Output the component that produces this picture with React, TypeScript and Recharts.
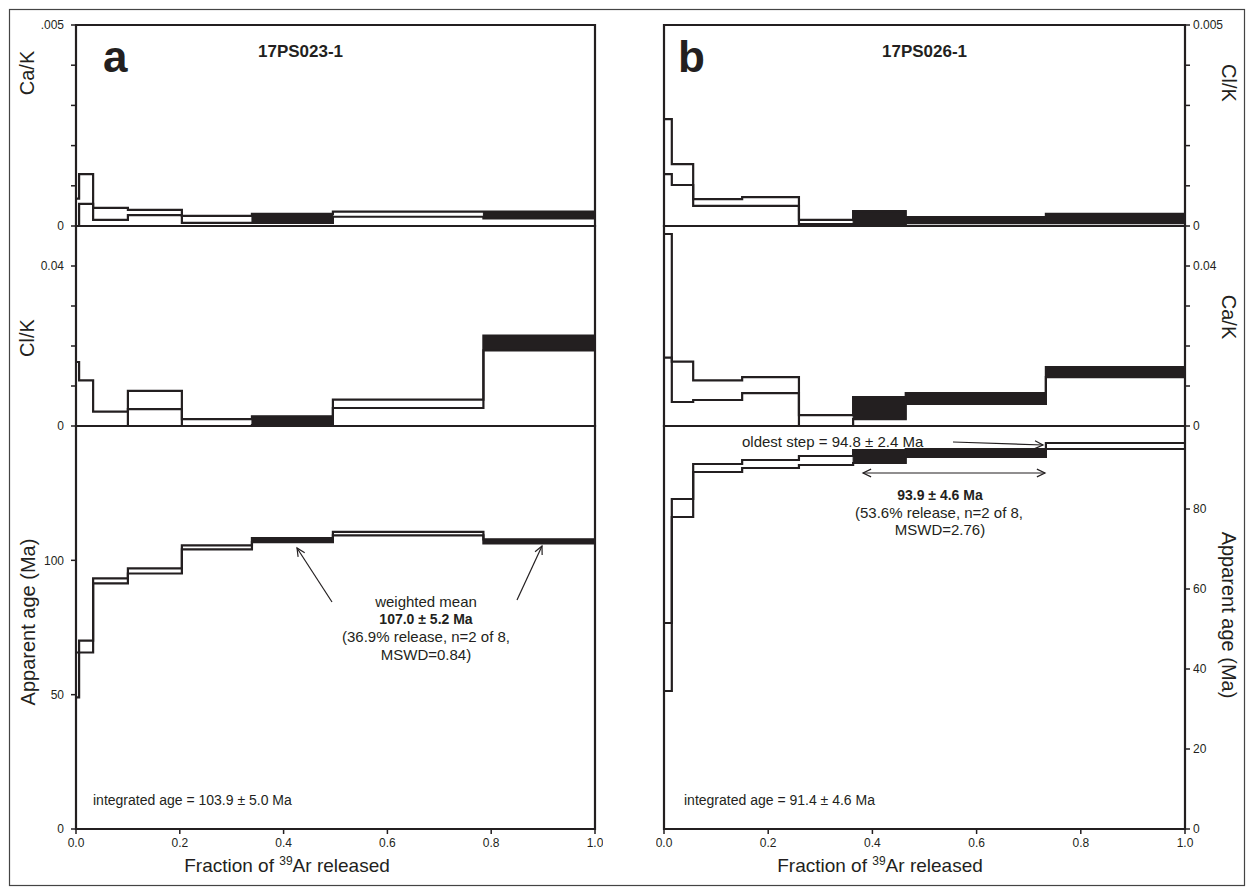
import React from 'react';
import { ComposedChart, Line, XAxis, YAxis, ReferenceArea } from 'recharts';

const INK = '#231f20';
const FONT = '"Liberation Sans", Arial, Helvetica, sans-serif';

// ---- panel a : 17PS023-1 ----
const fractionA = [0, 0.006, 0.033, 0.1, 0.204, 0.339, 0.495, 0.785, 1.0];
const caKHiA = [0.00068, 0.00129, 0.00045, 0.0004, 0.00025, 0.0003, 0.00036, 0.00036];
const caKLoA = [0, 0.00055, 0.00015, 0.00027, 0.00008, 0.00008, 0.00023, 0.00019];
const clKHiA = [0.016, 0.0114, 0.0036, 0.0088, 0.0017, 0.0024, 0.0066, 0.0226];
const clKLoA = [0, 0, 0, 0.0042, 0, 0.0002, 0.0045, 0.0189];
const ageHiA = [65.7, 70.1, 93.3, 97.0, 105.6, 108.3, 110.6, 107.8];
const ageLoA = [49, 65.7, 91.4, 95.1, 104.1, 106.8, 109.3, 106.3];
const plateauA = [5, 7];

// ---- panel b : 17PS026-1 ----
const fractionB = [0, 0.015, 0.056, 0.15, 0.259, 0.363, 0.464, 0.733, 1.0];
const clKHiB = [0.00266, 0.00154, 0.00067, 0.00072, 0.00015, 0.00037, 0.00022, 0.0003];
const clKLoB = [0.00129, 0.00102, 0.0005, 0.0005, 0.00005, 0.00002, 0.00007, 0.00007];
const caKHiB = [0.048, 0.0161, 0.0114, 0.0122, 0.0027, 0.0072, 0.0082, 0.0147];
const caKLoB = [0.0171, 0.006, 0.0065, 0.0082, 0, 0.0017, 0.0055, 0.0122];
const ageHiB = [51.5, 82.5, 91.25, 92.25, 93.25, 94.75, 95.0, 96.5];
const ageLoB = [34.5, 78.0, 89.25, 90.25, 91.0, 91.5, 93.0, 95.0];
const ratioFilledB = [5, 6, 7];
const ageFilledB = [5, 6];

// ---- axes ----
const xTicks = [0, 0.2, 0.4, 0.6, 0.8, 1.0];
const smallTicks = [0, 0.001, 0.002, 0.003, 0.004, 0.005];
const bigTicks = [0, 0.01, 0.02, 0.03, 0.04];
const ageTicksA = [0, 50, 100];
const ageTicksB = [0, 20, 40, 60, 80];

const M = 8;

type PlotProps = {
  bounds: number[];
  hi: number[];
  lo: number[];
  filled: number[];
  domain: [number, number];
  ticks: number[];
  labels: Record<string, string>;
  side: 'left' | 'right';
  left: number;
  top: number;
  width: number;
  height: number;
  showX?: boolean;
};

function StepPlot(p: PlotProps) {
  const data = p.bounds.map((x, i) => {
    const k = Math.min(i, p.hi.length - 1);
    return { x, hi: p.hi[k], lo: p.lo[k] };
  });
  const yW = p.side === 'left' ? 66 : 50;
  const xH = p.showX ? 30 : 0;
  const divLeft = p.side === 'left' ? p.left - yW - M : p.left - M;
  return (
    <div style={{ position: 'absolute', left: divLeft, top: p.top - M }}>
      <ComposedChart
        width={M + yW + p.width + M}
        height={M + p.height + xH + M}
        data={data}
        margin={{ top: M, right: M, bottom: M, left: M }}
      >
        <XAxis
          type="number"
          dataKey="x"
          domain={[0, 1]}
          ticks={xTicks}
          hide={!p.showX}
          height={30}
          tickFormatter={(v: number) => v.toFixed(1)}
          tickSize={5}
          tickMargin={4}
          axisLine={false}
          tickLine={{ stroke: INK, strokeWidth: 1.5 }}
          tick={{ fill: INK, fontSize: 12, fontFamily: FONT }}
        />
        <YAxis
          type="number"
          orientation={p.side}
          domain={p.domain}
          ticks={p.ticks}
          width={yW}
          interval={0}
          tickFormatter={(v: number) => p.labels[String(v)] ?? ''}
          tickSize={5}
          tickMargin={p.side === 'left' ? 7 : 3}
          axisLine={false}
          tickLine={{ stroke: INK, strokeWidth: 1.5 }}
          tick={{ fill: INK, fontSize: 12, fontFamily: FONT }}
        />
        <ReferenceArea
          x1={0}
          x2={1}
          y1={p.domain[0]}
          y2={p.domain[1]}
          fill="none"
          stroke={INK}
          strokeWidth={2.2}
        />
        {p.filled.map((i) => (
          <ReferenceArea
            key={i}
            x1={p.bounds[i]}
            x2={p.bounds[i + 1]}
            y1={p.lo[i]}
            y2={p.hi[i]}
            fill={INK}
            fillOpacity={1}
            stroke={INK}
            strokeWidth={1}
          />
        ))}
        <Line type="stepAfter" dataKey="hi" stroke={INK} strokeWidth={2.2} dot={false} activeDot={false} isAnimationActive={false} />
        <Line type="stepAfter" dataKey="lo" stroke={INK} strokeWidth={2.2} dot={false} activeDot={false} isAnimationActive={false} />
      </ComposedChart>
    </div>
  );
}

function Arrow({ x1, y1, x2, y2, both }: { x1: number; y1: number; x2: number; y2: number; both?: boolean }) {
  const head = (tx: number, ty: number, hx: number, hy: number) => {
    const a = Math.atan2(hy - ty, hx - tx);
    const L = 9;
    const s = 0.45;
    return (
      <polyline
        points={`${hx - L * Math.cos(a - s)},${hy - L * Math.sin(a - s)} ${hx},${hy} ${hx - L * Math.cos(a + s)},${hy - L * Math.sin(a + s)}`}
        fill="none"
        stroke={INK}
        strokeWidth={1.2}
      />
    );
  };
  return (
    <g>
      <line x1={x1} y1={y1} x2={x2} y2={y2} stroke={INK} strokeWidth={1.2} />
      {head(x1, y1, x2, y2)}
      {both && head(x2, y2, x1, y1)}
    </g>
  );
}

export default function App() {
  const aL = 76, aW = 519, bL = 664, bW = 521;
  return (
    <div style={{ position: 'absolute', left: 0, top: 0, width: 1249, height: 894, background: '#fff', fontFamily: FONT }}>
      {/* panel a */}
      <StepPlot bounds={fractionA} hi={caKHiA} lo={caKLoA} filled={plateauA} domain={[0, 0.005]} ticks={smallTicks}
        labels={{ '0': '0', '0.005': '.005' }} side="left" left={aL} top={25} width={aW} height={201} />
      <StepPlot bounds={fractionA} hi={clKHiA} lo={clKLoA} filled={plateauA} domain={[0, 0.05]} ticks={bigTicks}
        labels={{ '0': '0', '0.04': '0.04' }} side="left" left={aL} top={226} width={aW} height={200} />
      <StepPlot bounds={fractionA} hi={ageHiA} lo={ageLoA} filled={plateauA} domain={[0, 150]} ticks={ageTicksA}
        labels={{ '0': '0', '50': '50', '100': '100' }} side="left" left={aL} top={426} width={aW} height={403} showX />
      {/* panel b */}
      <StepPlot bounds={fractionB} hi={clKHiB} lo={clKLoB} filled={ratioFilledB} domain={[0, 0.005]} ticks={smallTicks}
        labels={{ '0': '0', '0.005': '0.005' }} side="right" left={bL} top={25} width={bW} height={201} />
      <StepPlot bounds={fractionB} hi={caKHiB} lo={caKLoB} filled={ratioFilledB} domain={[0, 0.05]} ticks={bigTicks}
        labels={{ '0': '0', '0.04': '0.04' }} side="right" left={bL} top={226} width={bW} height={200} />
      <StepPlot bounds={fractionB} hi={ageHiB} lo={ageLoB} filled={ageFilledB} domain={[0, 100.75]} ticks={ageTicksB}
        labels={{ '0': '0', '20': '20', '40': '40', '60': '60', '80': '80' }} side="right" left={bL} top={426} width={bW} height={403} showX />

      <svg width={1249} height={894} style={{ position: 'absolute', left: 0, top: 0, pointerEvents: 'none' }}>
        <rect x={9.5} y={9.5} width={1235} height={876} fill="none" stroke="#444" strokeWidth={1.2} />
        <g fill={INK} fontFamily={FONT}>
          <text x={103} y={72} fontSize={44} fontWeight="bold">a</text>
          <text x={678} y={72} fontSize={44} fontWeight="bold">b</text>
          <text x={258} y={57} fontSize={17} fontWeight="bold">17PS023-1</text>
          <text x={882} y={57} fontSize={17} fontWeight="bold">17PS026-1</text>

          <text transform="translate(27,73) rotate(-90)" textAnchor="middle" dominantBaseline="central" fontSize={20}>Ca/K</text>
          <text transform="translate(27,338) rotate(-90)" textAnchor="middle" dominantBaseline="central" fontSize={20}>Cl/K</text>
          <text transform="translate(28,622) rotate(-90)" textAnchor="middle" dominantBaseline="central" fontSize={20}>Apparent age (Ma)</text>
          <text transform="translate(1229,83) rotate(90)" textAnchor="middle" dominantBaseline="central" fontSize={20}>Cl/K</text>
          <text transform="translate(1229,317) rotate(90)" textAnchor="middle" dominantBaseline="central" fontSize={20}>Ca/K</text>
          <text transform="translate(1229,615) rotate(90)" textAnchor="middle" dominantBaseline="central" fontSize={20}>Apparent age (Ma)</text>

          <text x={287} y={872} textAnchor="middle" fontSize={19}>
            Fraction of <tspan fontSize={12} dy={-7}>39</tspan><tspan dy={7}>Ar released</tspan>
          </text>
          <text x={880} y={872} textAnchor="middle" fontSize={19}>
            Fraction of <tspan fontSize={12} dy={-7}>39</tspan><tspan dy={7}>Ar released</tspan>
          </text>

          <text x={93} y={805} fontSize={14}>integrated age = 103.9 ± 5.0 Ma</text>
          <text x={684} y={805} fontSize={14}>integrated age = 91.4 ± 4.6 Ma</text>

          <text x={426} y={607} textAnchor="middle" fontSize={15}>weighted mean</text>
          <text x={426} y={624} textAnchor="middle" fontSize={14} fontWeight="bold">107.0 ± 5.2 Ma</text>
          <text x={426} y={642} textAnchor="middle" fontSize={15}>(36.9% release, n=2 of 8,</text>
          <text x={426} y={660} textAnchor="middle" fontSize={15}>MSWD=0.84)</text>

          <text x={742} y={447} fontSize={15}>oldest step = 94.8 ± 2.4 Ma</text>
          <text x={940} y={500} textAnchor="middle" fontSize={14} fontWeight="bold">93.9 ± 4.6 Ma</text>
          <text x={939} y={518} textAnchor="middle" fontSize={15}>(53.6% release, n=2 of 8,</text>
          <text x={940} y={535} textAnchor="middle" fontSize={15}>MSWD=2.76)</text>
        </g>
        <Arrow x1={332} y1={602} x2={297} y2={548} />
        <Arrow x1={517} y1={600} x2={542} y2={546} />
        <Arrow x1={953} y1={442} x2={1043} y2={445} />
        <Arrow x1={863} y1={473} x2={1045} y2={473} both />
      </svg>
    </div>
  );
}
